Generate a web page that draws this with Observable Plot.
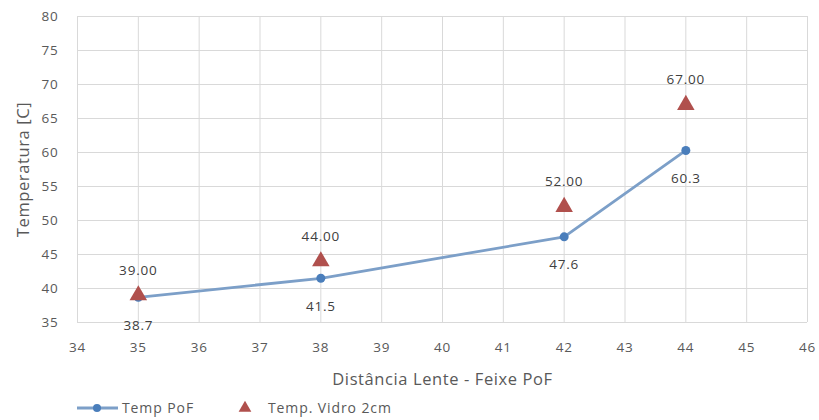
<!DOCTYPE html>
<html><head><meta charset="utf-8">
<script src="https://cdn.jsdelivr.net/npm/d3@7"></script>
<script src="https://cdn.jsdelivr.net/npm/@observablehq/plot@0.6"></script>
<style>
body{margin:0;background:#fff;font-family:"Open Sans",sans-serif;}
#legend{height:25px;position:relative;}
#legend svg{position:absolute;left:0;top:0;}
</style></head><body>
<div id="chart"></div>
<div id="legend"></div>
<script>
const distancia = [35, 38, 42, 44];
const tempPoF = [38.7, 41.5, 47.6, 60.3];
const tempVidro = [39, 44, 52, 67];
const xTicks = [34,35,36,37,38,39,40,41,42,43,44,45,46];
const yTicks = [35,40,45,50,55,60,65,70,75,80];
const seriesNames = ["Temp PoF", "Temp. Vidro 2cm"];

const pof = distancia.map((d,i)=>({x:d,y:tempPoF[i]}));
const vidro = distancia.map((d,i)=>({x:d,y:tempVidro[i]}));

const blueLine = "#7c9fc8", blueDot = "#4a7ebb", red = "#b0504d";

const plot = Plot.plot({
  width: 819, height: 395,
  marginTop: 16, marginLeft: 77, marginRight: 12, marginBottom: 73,
  style: {fontFamily: '"Open Sans", sans-serif', fontSize: "13.5px", color: "#595959", letterSpacing: "0.8px"},
  x: {domain: [34, 46], ticks: xTicks},
  y: {domain: [35, 80], ticks: yTicks},
  marks: [
    Plot.gridX(xTicks, {stroke: "#d9d9d9", strokeOpacity: 1}),
    Plot.gridY(yTicks, {stroke: "#d9d9d9", strokeOpacity: 1}),
    Plot.axisX(xTicks, {tickSize: 0, tickPadding: 20, label: "Distância Lente - Feixe PoF", labelAnchor: "center", labelOffset: 62, labelArrow: false}),
    Plot.axisY(yTicks, {tickSize: 0, tickPadding: 19, label: "Temperatura [C]", labelAnchor: "center", labelOffset: 60, labelArrow: false}),
    Plot.line(pof, {x: "x", y: "y", stroke: blueLine, strokeWidth: 2.8}),
    Plot.dot(pof, {x: "x", y: "y", r: 4.5, fill: blueDot}),
    Plot.dot(vidro, {x: "x", y: "y", symbol: "triangle", r: 6.5, fill: red, stroke: "none"}),
    Plot.text(pof, {x: "x", y: "y", text: d => d.y.toFixed(1), dy: 28, fill: "#404040", fontSize: 13.5}),
    Plot.text(vidro, {x: "x", y: "y", text: d => d.y.toFixed(2), dy: -25, fill: "#404040", fontSize: 13.5})
  ]
});
d3.select(plot).selectAll("g[aria-label='x-axis label'] text, g[aria-label='y-axis label'] text")
  .style("font-size","16.5px").style("letter-spacing","0.6px");
document.getElementById("chart").appendChild(plot);

// legend
const lg = d3.select("#legend").append("svg").attr("width", 819).attr("height", 25)
  .style("font-family", '"Open Sans", sans-serif').style("font-size","14px").style("letter-spacing","0.9px");
const cy = 13;
lg.append("line").attr("x1", 77).attr("x2", 118).attr("y1", cy).attr("y2", cy).attr("stroke", blueLine).attr("stroke-width", 2.8);
lg.append("circle").attr("cx", 97).attr("cy", cy).attr("r", 4).attr("fill", blueDot);
lg.append("text").attr("x", 122).attr("y", cy).attr("dy", "0.35em").attr("fill", "#595959").text(seriesNames[0]);
lg.append("path").attr("d", d3.symbol(d3.symbolTriangle, 70)()).attr("transform", `translate(245,${cy})`).attr("fill", red);
lg.append("text").attr("x", 268).attr("y", cy).attr("dy", "0.35em").attr("fill", "#595959").text(seriesNames[1]);
</script>
</body></html>
